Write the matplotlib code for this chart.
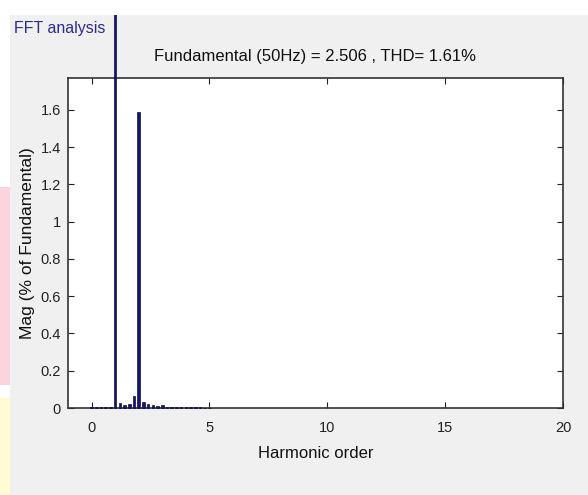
import matplotlib
matplotlib.use("Agg")
import matplotlib.pyplot as plt
from matplotlib.patches import Rectangle
from matplotlib.ticker import FormatStrFormatter

# harmonic orders (0.2 step, 10 Hz resolution for 50 Hz fundamental)
orders = [0.0, 0.2, 0.4, 0.6, 0.8, 1.0, 1.2, 1.4, 1.6, 1.8,
          2.0, 2.2, 2.4, 2.6, 2.8, 3.0, 3.2, 3.4, 3.6, 3.8,
          4.0, 4.2, 4.4, 4.6, 4.8, 5.0]
# magnitude in % of fundamental (fundamental itself = 100, runs off the axes)
mags = [0.005, 0.004, 0.004, 0.005, 0.008, 100.0, 0.025, 0.015, 0.02, 0.065,
        1.59, 0.03, 0.02, 0.015, 0.012, 0.014, 0.008, 0.006, 0.005, 0.004,
        0.004, 0.003, 0.003, 0.003, 0.002, 0.002]
thd = 1.61
fund = 2.506
yticks = [0, 0.2, 0.4, 0.6, 0.8, 1, 1.2, 1.4, 1.6]
xticks = [0, 5, 10, 15, 20]

W, H = 588, 495
fig = plt.figure(figsize=(W / 100, H / 100), dpi=100)
fig.patch.set_facecolor("white")
plt.rcParams["font.family"] = ["Liberation Sans", "DejaVu Sans"]

# page background bits around the panel
fig.patches.append(Rectangle((10 / W, 0), 1, 1 - 15 / H, transform=fig.transFigure,
                             facecolor="#f0f0f0", edgecolor="none", zorder=-10))
fig.patches.append(Rectangle((0, 1 - 385 / H), 10 / W, 198 / H, transform=fig.transFigure,
                             facecolor="#fcd4de", edgecolor="none", zorder=-10))
fig.patches.append(Rectangle((0, 0), 10 / W, 1 - 398 / H, transform=fig.transFigure,
                             facecolor="#fffbd2", edgecolor="none", zorder=-10))

ax = fig.add_axes([68 / W, 1 - 408 / H, (563 - 68) / W, (408 - 78) / H])
ax.set_facecolor("white")

bars = ax.bar(orders, mags, width=0.11, color="#16166e", edgecolor="#0c0c40",
              linewidth=0.5, zorder=3)
# fundamental bar sticks out above the axes, up to the panel border
clip = Rectangle((0, 0), 1, 1 - 15 / H, transform=fig.transFigure)
for b in bars:
    b.set_clip_on(True)
    b.set_clip_path(clip)

ax.set_xlim(-1, 20)
ax.set_ylim(0, 1.1 * thd)
ax.set_xticks(xticks)
ax.set_yticks(yticks)
ax.yaxis.set_major_formatter(FormatStrFormatter("%g"))
ax.tick_params(axis="both", direction="in", length=4, width=0.8, top=True, right=True,
               labelsize=10.5, colors="#222222")
ax.tick_params(axis="x", pad=9)
ax.tick_params(axis="y", pad=5)
for s in ax.spines.values():
    s.set_color("#333333")
    s.set_linewidth(1.2)

ax.set_xlabel("Harmonic order", fontsize=12, color="#111111", labelpad=8)
ax.set_ylabel("Mag (% of Fundamental)", fontsize=12.5, color="#111111", labelpad=4)
ax.set_title(f"Fundamental (50Hz) = {fund} , THD= {thd}%", fontsize=12,
             color="#111111", pad=12)

fig.text(14 / W, 1 - 29 / H, "FFT analysis", fontsize=11.5, color="#2a2a90",
         ha="left", va="center")

fig.savefig("out.png", dpi=100, facecolor=fig.get_facecolor())
